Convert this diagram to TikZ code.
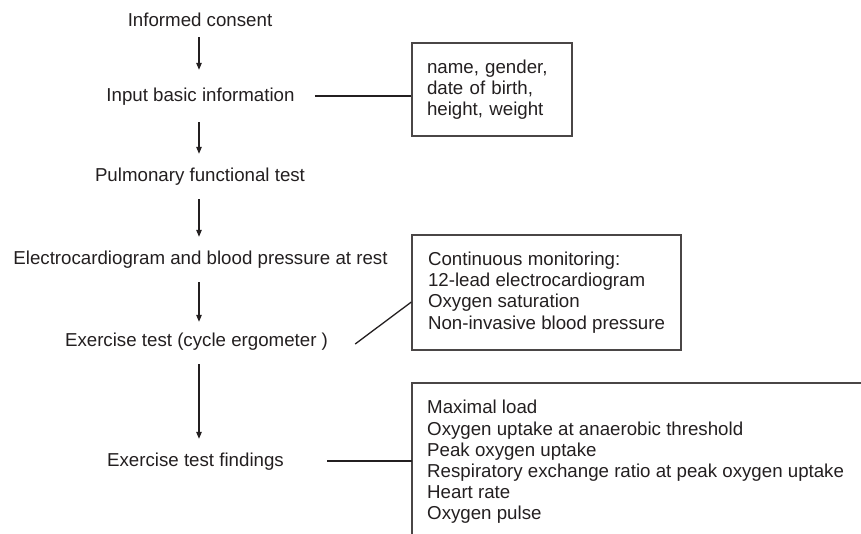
\documentclass[tikz,border=0pt]{standalone}
\usepackage{fontspec}
\setmainfont{Liberation Sans}
\usetikzlibrary{arrows.meta,calc}
\definecolor{ink}{HTML}{231F20}
\definecolor{frame}{HTML}{4A4646}
\begin{document}
\begin{tikzpicture}[x=1pt,y=-1pt,
  every node/.style={font=\fontsize{18.7}{21.2}\selectfont, text=ink},
  stage/.style={inner sep=0pt, text height=13.7pt, text depth=3.9pt},
  infobox/.style={draw=frame, line width=1.3pt, inner xsep=15pt, inner ysep=0pt, align=left},
  boxedge/.style={draw=frame, line width=1.3pt},
  flow/.style={draw=ink, line width=1.2pt, -{Triangle[length=7pt,width=5.5pt]}},
  link/.style={draw=ink, line width=1.6pt},
]
\useasboundingbox (0,0) rectangle (861,533);
\clip (0,0) rectangle (861,533);
\coordinate (ax) at (199,0);

% left column
\node[stage] (consent)   at (200,22)   {Informed consent};
\node[stage] (input)     at (200.5,97) {Input basic information};
\node[stage] (pulmonary) at (200,177)  {Pulmonary functional test};
\node[stage] (ecg)       at (200.5,260){Electrocardiogram and blood pressure at rest};
\node[stage] (exercise)  at (196.5,342){Exercise test (cycle ergometer )};
\node[stage] (findings)  at (195.5,462){Exercise test findings};

% boxes
\node[infobox, text width=130pt, minimum width=160pt, minimum height=93pt] (box1) at (492,89.5)
  {name, gender,\\date of birth,\\height, weight};
\node[infobox, minimum width=269pt, minimum height=115pt] (box2) at (546.5,292.5)
  {Continuous monitoring:\\12-lead electrocardiogram\\Oxygen saturation\\Non-invasive blood pressure};
\coordinate (b3) at (412,383);
\draw[boxedge] (880,383) -- (b3) -- (412,560);
\node[align=left, inner sep=0pt, anchor=west] (box3) at (427,462)
  {Maximal load\\Oxygen uptake at anaerobic threshold\\Peak oxygen uptake\\Respiratory exchange ratio at peak oxygen uptake\\Heart rate\\Oxygen pulse};

% arrows
\draw[flow] ($(consent.south -| ax)+(0,6.2)$) -- ($(input.north -| ax)+(0,-18.2)$);
\draw[flow] ($(input.south -| ax)+(0,16.2)$) -- ($(pulmonary.north -| ax)+(0,-14.2)$);
\draw[flow] ($(pulmonary.south -| ax)+(0,13.2)$) -- ($(ecg.north -| ax)+(0,-14.2)$);
\draw[flow] ($(ecg.south -| ax)+(0,13.2)$) -- ($(exercise.north -| ax)+(0,-11.2)$);
\draw[flow] ($(exercise.south -| ax)+(0,13.2)$) -- ($(findings.north -| ax)+(0,-14.2)$);

% connectors
\draw[link] ($(input.east)+(20,-1)$) -- ($(input.east -| box1.west)+(0,-1)$);
\draw[link, line width=1.3pt] ($(exercise.east)+(27,2)$) -- ($(box2.west)+(0,9.5)$);
\draw[link] ($(findings.east)+(43,-1)$) -- ($(findings.east -| b3)+(0,-1)$);
\end{tikzpicture}
\end{document}
